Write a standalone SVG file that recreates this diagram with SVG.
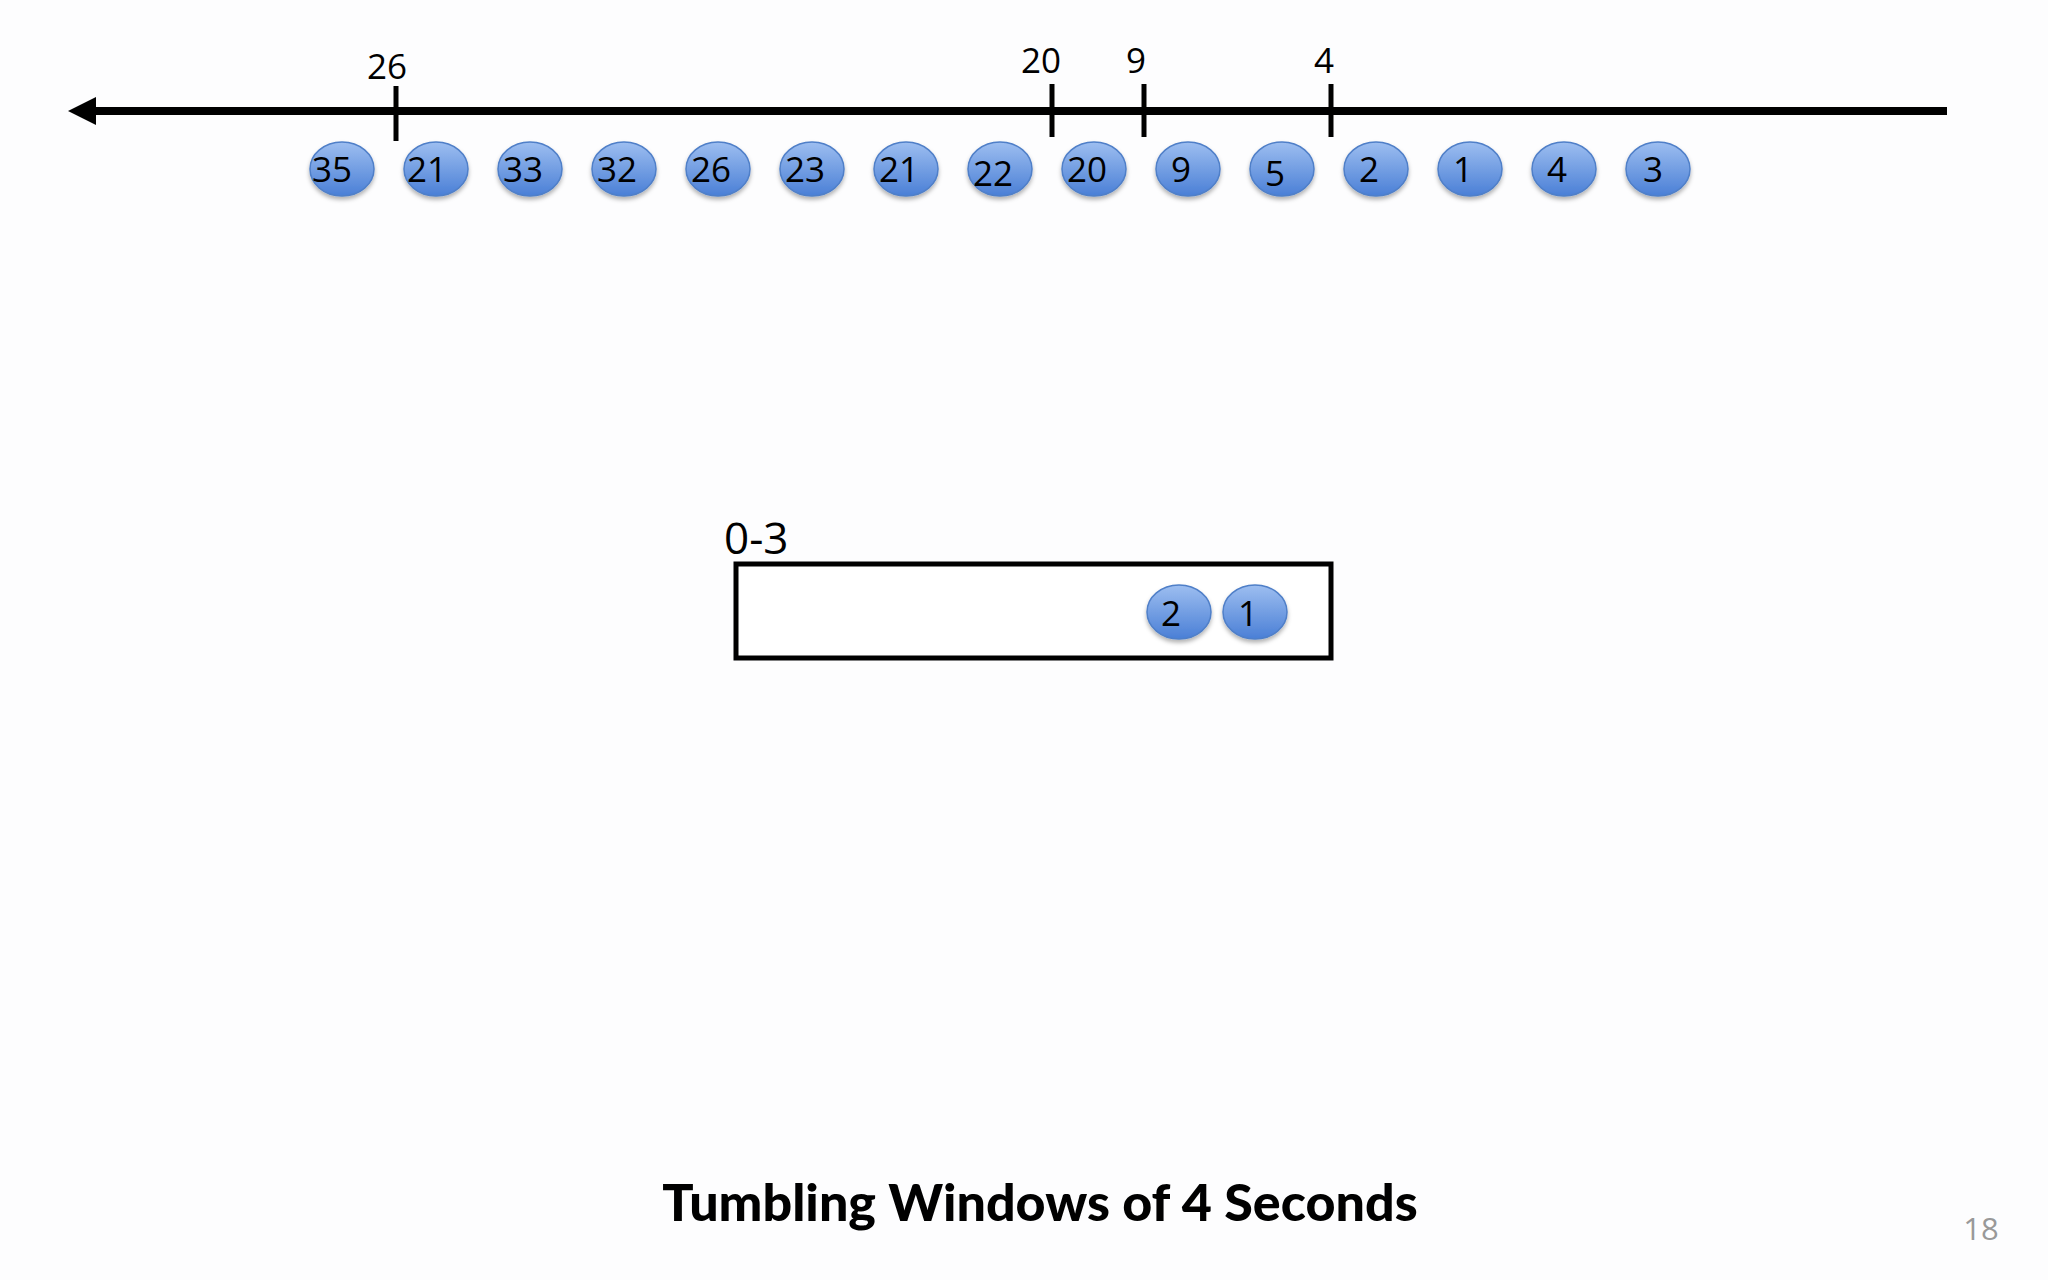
<svg xmlns="http://www.w3.org/2000/svg" width="2048" height="1280" viewBox="0 0 2048 1280">
<defs>
<linearGradient id="bg" x1="0" y1="0" x2="0" y2="1"><stop offset="0" stop-color="#9dbef0"/><stop offset="1" stop-color="#4a7fd6"/></linearGradient>
<filter id="sh" x="-30%" y="-30%" width="160%" height="170%"><feDropShadow dx="0" dy="3" stdDeviation="2" flood-color="#000" flood-opacity="0.3"/></filter>
<style>
.b{fill:url(#bg);stroke:#4f7fc8;stroke-width:1.5;filter:url(#sh)}
.t{font-family:"Open Sans","Liberation Sans",sans-serif;font-size:35px;fill:#000}
.k{stroke:#000;stroke-width:5}
</style>
</defs>
<rect width="2048" height="1280" fill="#fdfdfe"/>
<g id="connectors">
<line x1="92" y1="111" x2="1947" y2="111" stroke="#000" stroke-width="8"/>
<polygon points="68,111 96,97 96,125" fill="#000"/>
<line class="k" x1="396" y1="86" x2="396" y2="141"/>
<line class="k" x1="1052" y1="84" x2="1052" y2="137"/>
<line class="k" x1="1144" y1="84" x2="1144" y2="137"/>
<line class="k" x1="1331" y1="84" x2="1331" y2="137"/>
</g>
<g id="axis-labels" class="t" text-anchor="middle">
<text x="387" y="79">26</text>
<text x="1041" y="73">20</text>
<text x="1136" y="73">9</text>
<text x="1324" y="73">4</text>
</g>
<g id="stream">
<g id="e1"><ellipse class="b" cx="342" cy="169" rx="32" ry="27"/><text class="t" x="332" y="182" text-anchor="middle">35</text></g>
<g id="e2"><ellipse class="b" cx="436" cy="169" rx="32" ry="27"/><text class="t" x="427" y="182" text-anchor="middle">21</text></g>
<g id="e3"><ellipse class="b" cx="530" cy="169" rx="32" ry="27"/><text class="t" x="523" y="182" text-anchor="middle">33</text></g>
<g id="e4"><ellipse class="b" cx="624" cy="169" rx="32" ry="27"/><text class="t" x="617" y="182" text-anchor="middle">32</text></g>
<g id="e5"><ellipse class="b" cx="718" cy="169" rx="32" ry="27"/><text class="t" x="711" y="182" text-anchor="middle">26</text></g>
<g id="e6"><ellipse class="b" cx="812" cy="169" rx="32" ry="27"/><text class="t" x="805" y="182" text-anchor="middle">23</text></g>
<g id="e7"><ellipse class="b" cx="906" cy="169" rx="32" ry="27"/><text class="t" x="899" y="182" text-anchor="middle">21</text></g>
<g id="e8"><ellipse class="b" cx="1000" cy="169" rx="32" ry="27"/><text class="t" x="993" y="186" text-anchor="middle">22</text></g>
<g id="e9"><ellipse class="b" cx="1094" cy="169" rx="32" ry="27"/><text class="t" x="1087" y="182" text-anchor="middle">20</text></g>
<g id="e10"><ellipse class="b" cx="1188" cy="169" rx="32" ry="27"/><text class="t" x="1181" y="182" text-anchor="middle">9</text></g>
<g id="e11"><ellipse class="b" cx="1282" cy="169" rx="32" ry="27"/><text class="t" x="1275" y="186" text-anchor="middle">5</text></g>
<g id="e12"><ellipse class="b" cx="1376" cy="169" rx="32" ry="27"/><text class="t" x="1369" y="182" text-anchor="middle">2</text></g>
<g id="e13"><ellipse class="b" cx="1470" cy="169" rx="32" ry="27"/><text class="t" x="1463" y="182" text-anchor="middle">1</text></g>
<g id="e14"><ellipse class="b" cx="1564" cy="169" rx="32" ry="27"/><text class="t" x="1557" y="182" text-anchor="middle">4</text></g>
<g id="e15"><ellipse class="b" cx="1658" cy="169" rx="32" ry="27"/><text class="t" x="1653" y="182" text-anchor="middle">3</text></g>
</g>
<g id="window">
<text x="724" y="554" font-family="'Open Sans','Liberation Sans',sans-serif" font-size="44">0-3</text>
<rect x="736" y="564" width="595" height="94" fill="#fff" stroke="#000" stroke-width="5"/>
<g id="w2"><ellipse class="b" cx="1179" cy="612" rx="32" ry="27"/><text class="t" x="1171" y="626" text-anchor="middle">2</text></g>
<g id="w1"><ellipse class="b" cx="1255" cy="612" rx="32" ry="27"/><text class="t" x="1248" y="626" text-anchor="middle">1</text></g>
</g>
<text x="1040" y="1221" text-anchor="middle" font-family="Lato,'Liberation Sans',sans-serif" font-weight="900" font-size="52">Tumbling Windows of 4 Seconds</text>
<text x="1981" y="1240" text-anchor="middle" font-family="'Open Sans','Liberation Sans',sans-serif" font-size="31" fill="#999">18</text>
</svg>
